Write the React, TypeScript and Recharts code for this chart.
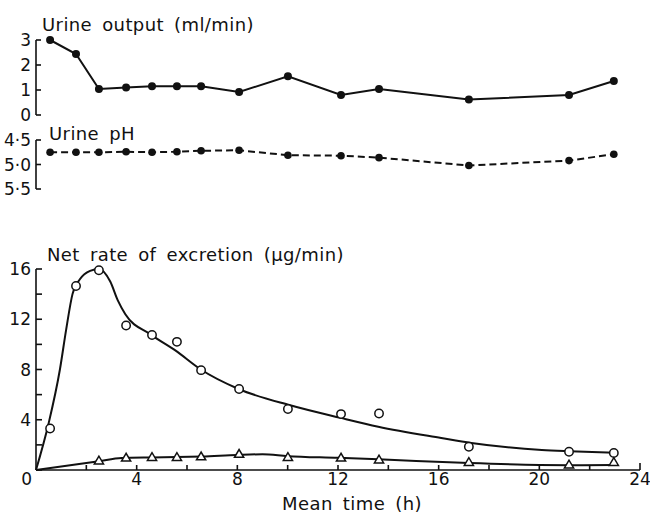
import React from 'react';
import { LineChart, Line, XAxis, YAxis, ComposedChart, Scatter } from 'recharts';

const FONT = "'DejaVu Sans', sans-serif";
const INK = '#111';

// Mean time of each urine collection (h)
const times = [0.56, 1.59, 2.5, 3.58, 4.61, 5.6, 6.56, 8.07, 10.01, 12.12, 13.63, 17.2, 21.18, 22.96];
// Urine output (ml/min)
const urineOutput = [3.0, 2.44, 1.04, 1.1, 1.15, 1.15, 1.15, 0.92, 1.55, 0.8, 1.04, 0.62, 0.8, 1.36];
// Urine pH
const urinePH = [4.75, 4.75, 4.75, 4.74, 4.75, 4.74, 4.72, 4.71, 4.81, 4.82, 4.86, 5.02, 4.92, 4.79];
// Net rate of excretion (ug/min), open circles
const rateCircles = [3.3, 14.65, 15.9, 11.5, 10.75, 10.2, 7.95, 6.45, 4.85, 4.45, 4.5, 1.85, 1.45, 1.35];
// Net rate of excretion (ug/min), open triangles (from the 3rd collection on)
const triangleTimes = [2.5, 3.58, 4.61, 5.6, 6.56, 8.07, 10.01, 12.12, 13.63, 17.2, 21.18, 22.96];
const rateTriangles = [0.72, 0.95, 1.0, 1.0, 1.05, 1.25, 1.0, 0.95, 0.8, 0.6, 0.4, 0.6];
// Fitted curves
const curveATimes = [0, 0.5, 0.95, 1.2, 1.45, 1.75, 2.15, 2.5, 2.95, 3.25, 3.55, 4.55, 5.55, 6.55, 8.05, 10.1, 12.1, 13.6, 16.1, 17.3, 20.1, 21.2, 22.96];
const curveAValues = [0, 3.7, 8.0, 11.2, 14.0, 15.2, 15.85, 16.0, 15.0, 13.5, 12.4, 10.8, 9.5, 8.0, 6.45, 5.15, 4.15, 3.45, 2.55, 2.15, 1.6, 1.5, 1.38];
const curveBTimes = [0, 2.5, 3.4, 4.6, 5.6, 6.6, 8, 9, 10, 12, 13.6, 17.2, 20, 21.2, 22.96];
const curveBValues = [0, 0.7, 0.95, 1.0, 1.03, 1.08, 1.2, 1.25, 1.1, 0.97, 0.85, 0.55, 0.4, 0.38, 0.4];

const xTicks = [0, 2, 4, 6, 8, 10, 12, 14, 16, 18, 20, 22, 24];
const xLabelled = [0, 4, 8, 12, 16, 20, 24];
const outputTicks = [0, 1, 2, 3];
const phTicks = [4.5, 5.0, 5.5];
const phLabels = ['4·5', '5·0', '5·5'];
const rateTicks = [0, 2, 4, 6, 8, 10, 12, 14, 16];
const rateLabelled = [4, 8, 12, 16];

const outputData = times.map((t, i) => ({ t, v: urineOutput[i] }));
const phData = times.map((t, i) => ({ t, v: urinePH[i] }));
const circleData = times.map((t, i) => ({ t, v: rateCircles[i] }));
const triangleData = triangleTimes.map((t, i) => ({ t, v: rateTriangles[i] }));
const curveA = curveATimes.map((t, i) => ({ t, v: curveAValues[i] }));
const curveB = curveBTimes.map((t, i) => ({ t, v: curveBValues[i] }));

const W = 650;
const H = 524;
const AXIS_W = 36;
const TM = 4; // tick margin

const makeYTick = (labelFor: (v: number) => string | null, len: number) => (props: any) => {
  const { x, y, payload } = props;
  const ax = x + TM;
  const lab = labelFor(payload.value);
  return (
    <g>
      <line x1={ax} x2={ax + len} y1={y} y2={y} stroke={INK} strokeWidth={1.6} />
      {lab !== null && (
        <text x={x - 1} y={y} dy="0.36em" textAnchor="end" fontFamily={FONT} fontSize={17} fill={INK}>
          {lab}
        </text>
      )}
    </g>
  );
};

const XTick = (props: any) => {
  const { x, y, payload } = props;
  const ay = y - TM;
  const v = payload.value;
  const show = xLabelled.includes(v);
  return (
    <g>
      {v !== 0 && <line x1={x} x2={x} y1={ay} y2={ay - (v === 24 ? 7 : 5)} stroke={INK} strokeWidth={1.6} />}
      {show && (
        <text x={v === 0 ? x - 4 : x} y={ay + 3} dy="0.72em" textAnchor={v === 0 ? 'end' : 'middle'} fontFamily={FONT} fontSize={17} fill={INK}>
          {String(v)}
        </text>
      )}
    </g>
  );
};

const OpenCircle = (p: any) => (
  <circle cx={p.cx} cy={p.cy} r={4.2} fill="#fff" stroke={INK} strokeWidth={1.5} />
);
const OpenTriangle = (p: any) => {
  const { cx, cy } = p;
  return (
    <polygon
      points={`${cx},${cy - 4.8} ${cx - 4.6},${cy + 3} ${cx + 4.6},${cy + 3}`}
      fill="#fff"
      stroke={INK}
      strokeWidth={1.5}
    />
  );
};

const abs: React.CSSProperties = { position: 'absolute', left: 0, top: 0 };
const titleStyle = { fontFamily: FONT, fontSize: 18, fill: INK, letterSpacing: 0.4, wordSpacing: 4 } as any;

export default function App() {
  return (
    <div style={{ position: 'absolute', left: 0, top: 0, width: W, height: H, background: '#fff', overflow: 'hidden' }}>
      <div style={abs}>
        <LineChart width={W} height={H} data={outputData} margin={{ top: 40, bottom: H - 115, left: 0, right: 10 }}>
          <XAxis dataKey="t" type="number" domain={[0, 24]} hide />
          <YAxis
            dataKey="v"
            type="number"
            domain={[0, 3]}
            ticks={outputTicks}
            width={AXIS_W}
            tickSize={0}
            tickMargin={TM}
            tickLine={false}
            axisLine={{ stroke: INK, strokeWidth: 1.6 }}
            tick={makeYTick((v) => String(v), 5)}
          />
          <Line
            dataKey="v"
            type="linear"
            stroke={INK}
            strokeWidth={2}
            dot={{ r: 4, fill: INK, stroke: INK, strokeWidth: 0 }}
            isAnimationActive={false}
          />
        </LineChart>
      </div>
      <div style={abs}>
        <LineChart width={W} height={H} data={phData} margin={{ top: 140, bottom: H - 189, left: 0, right: 10 }}>
          <XAxis dataKey="t" type="number" domain={[0, 24]} hide />
          <YAxis
            dataKey="v"
            type="number"
            domain={[4.5, 5.5]}
            reversed
            ticks={phTicks}
            width={AXIS_W}
            tickSize={0}
            tickMargin={TM}
            tickLine={false}
            axisLine={{ stroke: INK, strokeWidth: 1.6 }}
            tick={makeYTick((v) => phLabels[phTicks.indexOf(v)] ?? null, 5)}
          />
          <Line
            dataKey="v"
            type="linear"
            stroke={INK}
            strokeWidth={2}
            strokeDasharray="7 4"
            dot={{ r: 3.8, fill: INK, stroke: INK, strokeWidth: 0 }}
            isAnimationActive={false}
          />
        </LineChart>
      </div>
      <div style={abs}>
        <ComposedChart width={W} height={H} margin={{ top: 269, bottom: 24, left: 0, right: 10 }}>
          <XAxis
            dataKey="t"
            type="number"
            domain={[0, 24]}
            ticks={xTicks}
            height={30}
            tickSize={0}
            tickMargin={TM}
            tickLine={false}
            axisLine={{ stroke: INK, strokeWidth: 1.6 }}
            tick={XTick}
            interval={0}
          />
          <YAxis
            dataKey="v"
            type="number"
            domain={[0, 16]}
            ticks={rateTicks}
            width={AXIS_W}
            tickSize={0}
            tickMargin={TM}
            tickLine={false}
            axisLine={{ stroke: INK, strokeWidth: 1.6 }}
            tick={makeYTick((v) => (rateLabelled.includes(v) ? String(v) : null), 6)}
            interval={0}
          />
          <Line data={curveA} dataKey="v" type="monotone" stroke={INK} strokeWidth={2} dot={false} isAnimationActive={false} />
          <Line data={curveB} dataKey="v" type="monotone" stroke={INK} strokeWidth={2} dot={false} isAnimationActive={false} />
          <Scatter data={circleData} dataKey="v" shape={OpenCircle} isAnimationActive={false} />
          <Scatter data={triangleData} dataKey="v" shape={OpenTriangle} isAnimationActive={false} />
        </ComposedChart>
      </div>
      <svg width={W} height={H} style={abs}>
        <text x={42} y={31} style={titleStyle}>Urine output (ml/min)</text>
        <text x={49} y={140} style={titleStyle}>Urine pH</text>
        <text x={47} y={261} style={titleStyle}>Net rate of excretion (µg/min)</text>
        <text x={352} y={510} textAnchor="middle" style={titleStyle}>Mean time (h)</text>
      </svg>
    </div>
  );
}
